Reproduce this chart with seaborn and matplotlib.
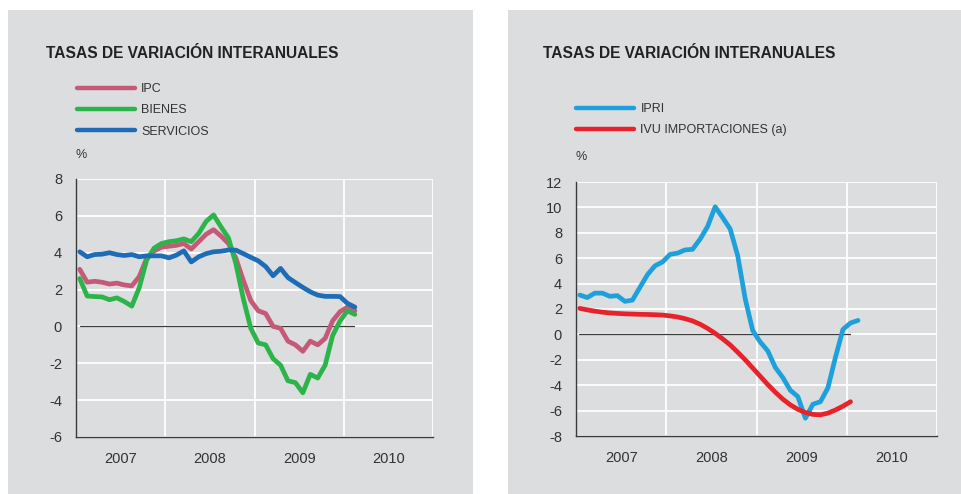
import matplotlib.pyplot as plt
import numpy as np
import pandas as pd
import seaborn as sns
from matplotlib.lines import Line2D
from matplotlib.patches import Rectangle

# monthly year-on-year rates, Jan 2007 onwards
ipc = [3.1, 2.4, 2.45, 2.4, 2.3, 2.35, 2.25, 2.2, 2.7, 3.7, 4.1, 4.3,
       4.35, 4.4, 4.5, 4.2, 4.6, 5.0, 5.25, 4.9, 4.5, 3.7, 2.5, 1.4,
       0.85, 0.7, 0.0, -0.1, -0.8, -1.0, -1.35, -0.8, -1.0, -0.65, 0.3, 0.8,
       1.05, 0.85]
bienes = [2.6, 1.65, 1.62, 1.6, 1.45, 1.55, 1.35, 1.1, 2.1, 3.6, 4.25, 4.5,
          4.6, 4.65, 4.75, 4.6, 5.05, 5.7, 6.05, 5.4, 4.8, 3.4, 1.5, -0.1,
          -0.9, -1.0, -1.75, -2.1, -2.95, -3.05, -3.6, -2.6, -2.8, -2.1, -0.5, 0.3,
          0.85, 0.65]
servicios = [4.05, 3.78, 3.9, 3.92, 4.0, 3.9, 3.85, 3.9, 3.78, 3.83, 3.83, 3.83,
             3.72, 3.87, 4.1, 3.5, 3.78, 3.95, 4.05, 4.08, 4.15, 4.14, 3.95, 3.75,
             3.56, 3.25, 2.75, 3.15, 2.65, 2.38, 2.12, 1.88, 1.7, 1.63, 1.63, 1.62,
             1.25, 1.05]
ipri = [3.1, 2.9, 3.25, 3.25, 3.0, 3.05, 2.6, 2.7, 3.7, 4.7, 5.4, 5.7,
        6.3, 6.4, 6.65, 6.7, 7.5, 8.5, 10.05, 9.2, 8.3, 6.2, 2.8, 0.3,
        -0.6, -1.3, -2.6, -3.4, -4.4, -4.9, -6.6, -5.5, -5.3, -4.2, -1.8, 0.4,
        0.9, 1.1]
ivu = [2.05, 1.93, 1.83, 1.75, 1.69, 1.65, 1.62, 1.6, 1.58, 1.57, 1.55, 1.52,
       1.46, 1.37, 1.24, 1.06, 0.8, 0.47, 0.08, -0.35, -0.83, -1.4, -2.0, -2.65,
       -3.3, -3.95, -4.55, -5.1, -5.55, -5.9, -6.15, -6.3, -6.33, -6.2, -5.95, -5.65,
       -5.3]

year_labels = ["2007", "2008", "2009", "2010"]
title = "TASAS DE VARIACIÓN INTERANUALES"

left_series = {"IPC": ipc, "BIENES": bienes, "SERVICIOS": servicios}
left_colors = {"IPC": "#c45a78", "BIENES": "#2cb34a", "SERVICIOS": "#1f6cb6"}
right_series = {"IPRI": ipri, "IVU IMPORTACIONES (a)": ivu}
right_colors = {"IPRI": "#1ea0db", "IVU IMPORTACIONES (a)": "#e8222b"}

BG = "#dcdddf"
TXT = "#333333"
W, H = 962, 494

sns.set_theme(style="white")
plt.rcParams["font.family"] = ["Liberation Sans", "DejaVu Sans"]
plt.rcParams["axes.unicode_minus"] = False


def px(x, y):
    return x / W, 1 - y / H


def to_long(series):
    frames = []
    for name, vals in series.items():
        t = 2007 + (np.arange(len(vals)) + 0.5) / 12
        frames.append(pd.DataFrame({"t": t, "v": vals, "serie": name}))
    return pd.concat(frames, ignore_index=True)


def style_axes(ax, ylim, yticks, zero_span):
    ax.set_facecolor(BG)
    ax.set_xlim(2007, 2011)
    ax.set_ylim(*ylim)
    ax.set_yticks(yticks)
    ax.set_xticks([2008, 2009, 2010, 2011])
    ax.set_xticklabels([])
    ax.set_xticks([2007.5, 2008.5, 2009.5, 2010.5], minor=True)
    ax.set_xticklabels(year_labels, minor=True)
    ax.tick_params(axis="both", which="both", length=0, colors=TXT, labelsize=10.5)
    ax.tick_params(axis="y", pad=10)
    ax.tick_params(axis="x", which="minor", pad=11)
    ax.grid(True, which="major", color="white", linewidth=1.3)
    ax.set_axisbelow(True)
    for s in ["top", "right"]:
        ax.spines[s].set_visible(False)
    for s in ["left", "bottom"]:
        ax.spines[s].set_color("#3a3a3a")
        ax.spines[s].set_linewidth(1.0)
    ax.axhline(0, xmin=zero_span[0], xmax=zero_span[1], color="#3a3a3a", lw=0.9, zorder=2)
    ax.set_xlabel("")
    ax.set_ylabel("")


def legend(fig, ax, colors, xy):
    handles = [Line2D([], [], color=c, lw=3.2) for c in colors.values()]
    ax.legend(handles, list(colors.keys()), loc="upper left", bbox_to_anchor=px(*xy),
              bbox_transform=fig.transFigure, frameon=False, fontsize=9,
              handlelength=4.6, handletextpad=0.55, labelspacing=0.75,
              borderaxespad=0, borderpad=0, labelcolor=TXT)


fig = plt.figure(figsize=(W / 100, H / 100), dpi=100)
fig.patch.set_facecolor("white")
fig.patches.append(Rectangle(px(8, 494), 465 / W, 484 / H, transform=fig.transFigure,
                             facecolor=BG, edgecolor="none", zorder=-5))
fig.patches.append(Rectangle(px(508, 494), 454 / W, 484 / H, transform=fig.transFigure,
                             facecolor=BG, edgecolor="none", zorder=-5))

ax1 = fig.add_axes([76 / W, 1 - 437 / H, 357 / W, 258 / H])
ax2 = fig.add_axes([576 / W, 1 - 436 / H, 361 / W, 254 / H])

sns.lineplot(data=to_long(left_series), x="t", y="v", hue="serie", palette=left_colors,
             linewidth=3.4, ax=ax1, legend=False, zorder=3)
sns.lineplot(data=to_long(right_series), x="t", y="v", hue="serie", palette=right_colors,
             linewidth=3.4, ax=ax2, legend=False, zorder=3)

style_axes(ax1, (-6, 8), range(-6, 9, 2), (0.011, 0.78))
style_axes(ax2, (-8, 12), range(-8, 13, 2), (0.008, 0.76))

fig.text(*px(46, 54), title, fontsize=11.2, fontweight="bold", color="#222222", va="center")
fig.text(*px(543, 54), title, fontsize=11.2, fontweight="bold", color="#222222", va="center")

legend(fig, ax1, left_colors, (77, 83))
legend(fig, ax2, right_colors, (576, 103))

fig.text(*px(76, 155), "%", fontsize=9, color=TXT, va="center")
fig.text(*px(576, 157), "%", fontsize=9, color=TXT, va="center")

fig.savefig("out.png", dpi=100, facecolor=fig.get_facecolor())
